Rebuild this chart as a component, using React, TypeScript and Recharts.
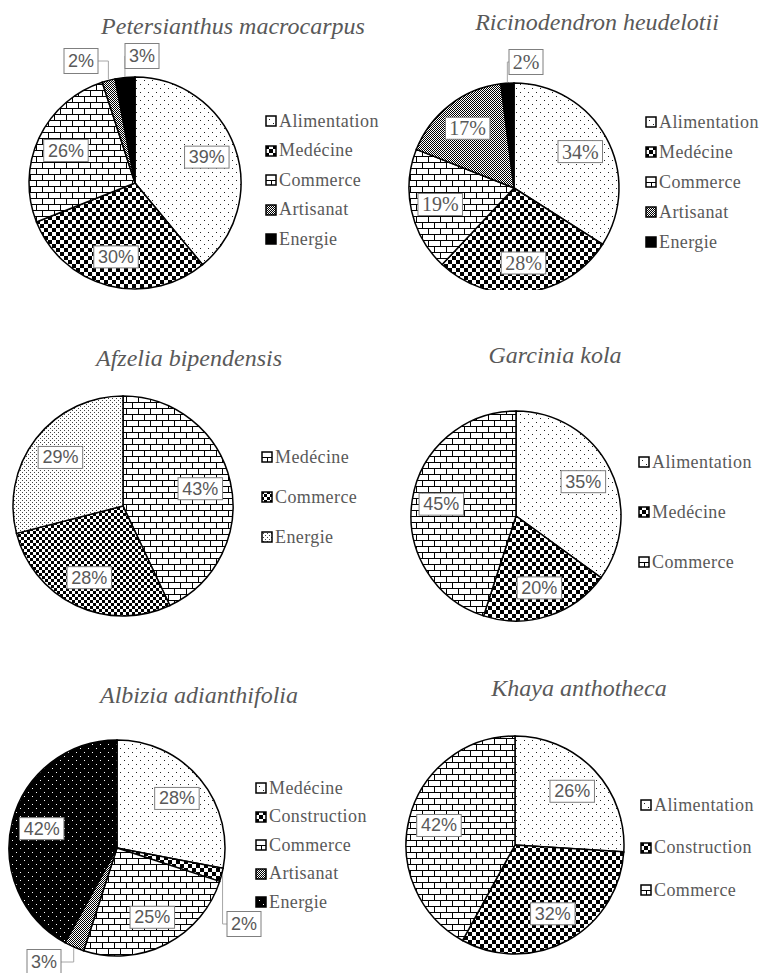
import React from 'react';
import { PieChart, Pie, Cell } from 'recharts';

const petersianthusCategories = ['Alimentation', 'Medécine', 'Commerce', 'Artisanat', 'Energie'];
const petersianthusValues = [39, 30, 26, 2, 3];

const ricinodendronCategories = ['Alimentation', 'Medécine', 'Commerce', 'Artisanat', 'Energie'];
const ricinodendronValues = [34, 28, 19, 17, 2];

const afzeliaCategories = ['Medécine', 'Commerce', 'Energie'];
const afzeliaValues = [43, 28, 29];

const garciniaCategories = ['Alimentation', 'Medécine', 'Commerce'];
const garciniaValues = [35, 20, 45];

const albiziaCategories = ['Medécine', 'Construction', 'Commerce', 'Artisanat', 'Energie'];
const albiziaValues = [28, 2, 25, 3, 42];

const khayaCategories = ['Alimentation', 'Construction', 'Commerce'];
const khayaValues = [26, 32, 42];

const RAD = Math.PI / 180;
const GREY_TEXT = '#595959';
const SERIF = '"Liberation Serif", monospace';
const SANS = '"Liberation Sans", Arial, sans-serif';

interface ChartDef {
  title: string;
  categories: string[];
  values: number[];
  fills: string[];
  left: number;
  top: number;
  height: number;
  cx: number;
  cy: number;
  r: number;
  titleX: number;
  titleY: number;
  legendX: number;
  legendY: number;
  legendGap: number;
  labelFont: string;
  outside?: Record<number, [number, number]>;
}

const charts: ChartDef[] = [
  {
    title: 'Petersianthus macrocarpus',
    categories: petersianthusCategories,
    values: petersianthusValues,
    fills: ['url(#dots)', 'url(#checker)', 'url(#brick)', 'url(#grey)', '#000'],
    left: 0, top: 0, height: 290, cx: 135, cy: 183, r: 106,
    titleX: 233, titleY: 26, legendX: 265, legendY: 121, legendGap: 29.5,
    labelFont: SANS, outside: { 3: [-54, -122], 4: [7, -127] },
  },
  {
    title: 'Ricinodendron heudelotii',
    categories: ricinodendronCategories,
    values: ricinodendronValues,
    fills: ['url(#dots)', 'url(#checker)', 'url(#brick)', 'url(#grey)', '#000'],
    left: 380, top: 0, height: 290, cx: 134, cy: 188, r: 105,
    titleX: 217, titleY: 22, legendX: 265, legendY: 122, legendGap: 30,
    labelFont: SERIF, outside: { 4: [12, -126] },
  },
  {
    title: 'Afzelia bipendensis',
    categories: afzeliaCategories,
    values: afzeliaValues,
    fills: ['url(#brick)', 'url(#fineChecker)', 'url(#fineDots)'],
    left: 0, top: 330, height: 330, cx: 123, cy: 176, r: 110,
    titleX: 189, titleY: 28, legendX: 261, legendY: 127, legendGap: 40,
    labelFont: SANS,
  },
  {
    title: 'Garcinia kola',
    categories: garciniaCategories,
    values: garciniaValues,
    fills: ['url(#dots)', 'url(#checker)', 'url(#brick)'],
    left: 380, top: 330, height: 330, cx: 136, cy: 186, r: 105,
    titleX: 175, titleY: 25, legendX: 258, legendY: 132, legendGap: 50,
    labelFont: SANS,
  },
  {
    title: 'Albizia adianthifolia',
    categories: albiziaCategories,
    values: albiziaValues,
    fills: ['url(#dots)', 'url(#checker)', 'url(#brick)', 'url(#grey)', 'url(#blackDots)'],
    left: 0, top: 660, height: 313, cx: 117, cy: 188, r: 108,
    titleX: 199, titleY: 35, legendX: 255, legendY: 128, legendGap: 28.5,
    labelFont: SANS, outside: { 1: [127, 76], 3: [-73, 114] },
  },
  {
    title: 'Khaya anthotheca',
    categories: khayaCategories,
    values: khayaValues,
    fills: ['url(#dots)', 'url(#checker)', 'url(#brick)'],
    left: 380, top: 660, height: 313, cx: 135, cy: 185, r: 109,
    titleX: 199, titleY: 28, legendX: 260, legendY: 145, legendGap: 42.5,
    labelFont: SANS,
  },
];

function Patterns() {
  return (
    <svg width={0} height={0} style={{ position: 'absolute' }}>
      <defs>
        <pattern id="dots" width={8} height={8} patternUnits="userSpaceOnUse">
          <rect width={8} height={8} fill="#fff" />
          <rect x={0} y={0} width={1} height={1} fill="#222" />
          <rect x={4} y={4} width={1} height={1} fill="#222" />
        </pattern>
        <pattern id="checker" width={8} height={8} patternUnits="userSpaceOnUse">
          <rect width={8} height={8} fill="#fff" />
          <rect x={0} y={0} width={4} height={4} fill="#000" />
          <rect x={4} y={4} width={4} height={4} fill="#000" />
        </pattern>
        <pattern id="brick" width={12} height={12} patternUnits="userSpaceOnUse">
          <rect width={12} height={12} fill="#fff" />
          <path d="M0 0.5H12M0 6.5H12M0.5 0V6.5M6.5 6.5V12" stroke="#000" strokeWidth={1} />
        </pattern>
        <pattern id="grey" width={2} height={2} patternUnits="userSpaceOnUse">
          <rect width={2} height={2} fill="#fff" />
          <rect x={0} y={0} width={1} height={1} fill="#000" />
          <rect x={1} y={1} width={1} height={1} fill="#000" />
        </pattern>
        <pattern id="fineChecker" width={6} height={6} patternUnits="userSpaceOnUse">
          <rect width={6} height={6} fill="#fff" />
          <rect x={0} y={0} width={3} height={3} fill="#000" />
          <rect x={3} y={3} width={3} height={3} fill="#000" />
        </pattern>
        <pattern id="fineDots" width={4} height={4} patternUnits="userSpaceOnUse">
          <rect width={4} height={4} fill="#fff" />
          <rect x={0} y={0} width={1} height={1} fill="#444" />
          <rect x={2} y={2} width={1} height={1} fill="#444" />
        </pattern>
        <pattern id="blackDots" width={8} height={8} patternUnits="userSpaceOnUse">
          <rect width={8} height={8} fill="#000" />
          <rect x={0} y={0} width={1} height={1} fill="#fff" />
          <rect x={4} y={4} width={1} height={1} fill="#fff" />
        </pattern>
      </defs>
    </svg>
  );
}

function makeLabel(values: number[], font: string, outside: Record<number, [number, number]>) {
  return (props: any) => {
    const { cx, cy, midAngle, outerRadius, index } = props;
    const text = `${values[index]}%`;
    const w = text.length * 10.5 + 13;
    const h = text.length > 2 ? 22 : 25;
    const dx = Math.cos(-midAngle * RAD);
    const dy = Math.sin(-midAngle * RAD);
    let bx: number;
    let by: number;
    let leader: string | null = null;
    const off = outside[index];
    if (off) {
      bx = cx + off[0];
      by = cy + off[1];
      const ex = cx + (outerRadius + 1) * dx;
      const ey = cy + (outerRadius + 1) * dy;
      const l = bx - w / 2;
      const rgt = bx + w / 2;
      if (ex >= l && ex <= rgt) {
        const sy = ey > by ? by + h / 2 : by - h / 2;
        leader = `M${ex},${sy}L${ex},${ey}`;
      } else {
        const sx = ex < l ? l : rgt;
        leader = `M${sx},${by}L${ex},${by}L${ex},${ey}`;
      }
    } else {
      bx = cx + outerRadius * 0.72 * dx;
      by = cy + outerRadius * 0.72 * dy;
    }
    return (
      <g>
        {leader && <path d={leader} stroke="#a6a6a6" strokeWidth={1} fill="none" />}
        <rect x={bx - w / 2} y={by - h / 2} width={w} height={h} fill="#fff" stroke="#7f7f7f" strokeWidth={1} />
        <text
          x={bx}
          y={by}
          textAnchor="middle"
          dominantBaseline="central"
          style={{ fontFamily: font }}
          fontSize={font === SERIF ? 20 : 18}
          fill={GREY_TEXT}
        >
          {text}
        </text>
      </g>
    );
  };
}

function PieBlock({ c }: { c: ChartDef }) {
  const data = c.categories.map((name, i) => ({ name, value: c.values[i] }));
  return (
    <div style={{ position: 'absolute', left: c.left, top: c.top, width: 380, height: c.height }}>
      <PieChart width={380} height={c.height} margin={{ top: 0, right: 0, bottom: 0, left: 0 }}>
        <Pie
          data={data}
          dataKey="value"
          nameKey="name"
          cx={c.cx}
          cy={c.cy}
          outerRadius={c.r}
          startAngle={90}
          endAngle={-270}
          stroke="#000"
          strokeWidth={1.5}
          labelLine={false}
          label={makeLabel(c.values, c.labelFont, c.outside || {})}
          isAnimationActive={false}
        >
          {data.map((d, i) => (
            <Cell key={d.name} fill={c.fills[i]} />
          ))}
        </Pie>
      </PieChart>
    </div>
  );
}

export default function App() {
  return (
    <div style={{ position: 'absolute', left: 0, top: 0, width: 759, height: 973, background: '#fff', overflow: 'hidden' }}>
      <Patterns />
      {charts.map((c) => (
        <PieBlock key={c.title} c={c} />
      ))}
      {charts.map((c) => (
        <div
          key={`t-${c.title}`}
          style={{
            position: 'absolute',
            left: c.left + c.titleX - 200,
            top: c.top + c.titleY - 15,
            width: 400,
            lineHeight: '30px',
            textAlign: 'center',
            fontSize: 24,
            fontStyle: 'italic',
            color: GREY_TEXT,
            fontFamily: '"Liberation Serif", monospace',
          }}
        >
          {c.title}
        </div>
      ))}
      {charts.map((c) => (
        <div
          key={`l-${c.title}`}
          style={{
            position: 'absolute',
            left: c.left + c.legendX,
            top: c.top + c.legendY - c.legendGap / 2,
            fontSize: 18,
            letterSpacing: 0.4,
            color: GREY_TEXT,
            fontFamily: '"Liberation Serif", monospace',
          }}
        >
          {c.categories.map((name, i) => (
            <div key={name} style={{ height: c.legendGap, display: 'flex', alignItems: 'center', whiteSpace: 'nowrap' }}>
              <svg width={12} height={12} style={{ marginRight: 2 }}>
                <rect x={1} y={1} width={10} height={10} fill={c.fills[i]} stroke="#000" strokeWidth={1.5} />
              </svg>
              {name}
            </div>
          ))}
        </div>
      ))}
    </div>
  );
}
